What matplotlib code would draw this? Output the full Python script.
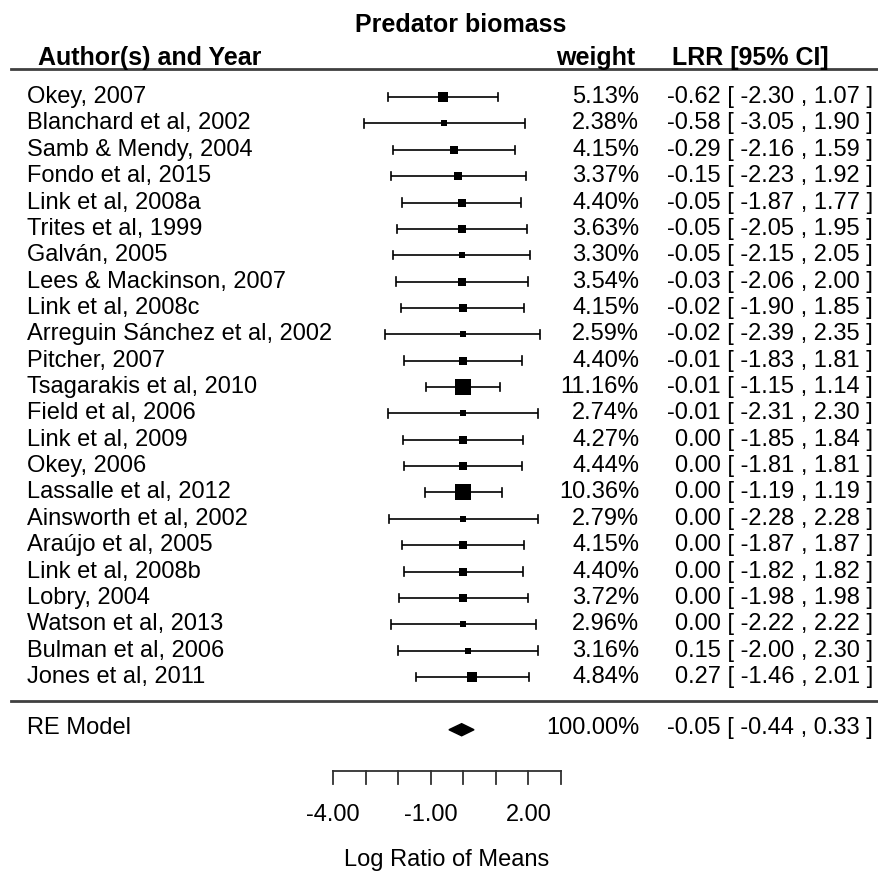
import numpy as np
import matplotlib
matplotlib.use('Agg')
import matplotlib.pyplot as plt
from matplotlib.patches import Polygon

plt.rcParams['font.family'] = ['Liberation Sans', 'DejaVu Sans']

# ── study-level data (top to bottom) ───────────────────────────────────────
studies = [
    "Okey, 2007", "Blanchard et al, 2002", "Samb & Mendy, 2004", "Fondo et al, 2015",
    "Link et al, 2008a", "Trites et al, 1999", "Galván, 2005", "Lees & Mackinson, 2007",
    "Link et al, 2008c", "Arreguin Sánchez et al, 2002", "Pitcher, 2007",
    "Tsagarakis et al, 2010", "Field et al, 2006", "Link et al, 2009", "Okey, 2006",
    "Lassalle et al, 2012", "Ainsworth et al, 2002", "Araújo et al, 2005",
    "Link et al, 2008b", "Lobry, 2004", "Watson et al, 2013", "Bulman et al, 2006",
    "Jones et al, 2011",
]
weights = [5.13, 2.38, 4.15, 3.37, 4.40, 3.63, 3.30, 3.54, 4.15, 2.59, 4.40, 11.16,
           2.74, 4.27, 4.44, 10.36, 2.79, 4.15, 4.40, 3.72, 2.96, 3.16, 4.84]
lrr = [-0.62, -0.58, -0.29, -0.15, -0.05, -0.05, -0.05, -0.03, -0.02, -0.02, -0.01,
       -0.01, -0.01, 0.00, 0.00, 0.00, 0.00, 0.00, 0.00, 0.00, 0.00, 0.15, 0.27]
ci_lo = [-2.30, -3.05, -2.16, -2.23, -1.87, -2.05, -2.15, -2.06, -1.90, -2.39, -1.83,
         -1.15, -2.31, -1.85, -1.81, -1.19, -2.28, -1.87, -1.82, -1.98, -2.22, -2.00, -1.46]
ci_hi = [1.07, 1.90, 1.59, 1.92, 1.77, 1.95, 2.05, 2.00, 1.85, 2.35, 1.81,
         1.14, 2.30, 1.84, 1.81, 1.19, 2.28, 1.87, 1.82, 1.98, 2.22, 2.30, 2.01]

# pooled random-effects estimate
re_est, re_lo, re_hi = -0.05, -0.44, 0.33

xticks = [-4, -3, -2, -1, 0, 1, 2, 3]
xtick_labels = ["-4.00", "", "", "-1.00", "", "", "2.00", ""]

# ── layout ─────────────────────────────────────────────────────────────────
k = len(studies)
rows = np.arange(k, 0, -1)
FS = 17
FS_B = 18

fig = plt.figure(figsize=(8.79, 8.74), dpi=100)
ax = fig.add_axes([0, 0, 1, 1])
ax.set_xlim(-14.224, 12.764)
ax.set_ylim(-6.473, 26.683)
ax.axis('off')

# square sizes as in metafor: scaled 1/SE between 0.5 and 1.5
se = (np.array(ci_hi) - np.array(ci_lo)) / (2 * 1.96)
inv = 1 / se
psize = (inv - inv.min()) / (inv.max() - inv.min()) + 0.5

cap = 0.16
for r, est, lo, hi, ps in zip(rows, lrr, ci_lo, ci_hi, psize):
    ax.plot([lo, hi], [r, r], color='black', lw=1.2, solid_capstyle='butt')
    ax.plot([lo, lo], [r - cap, r + cap], color='black', lw=1.2)
    ax.plot([hi, hi], [r - cap, r + cap], color='black', lw=1.2)
    ax.plot(est, r, marker='s', color='black', markersize=ps * 7.7, markeredgewidth=0)

# summary diamond
ax.add_patch(Polygon([[re_lo, -1], [re_est, -0.77], [re_hi, -1], [re_est, -1.23]],
                     closed=True, color='black'))

# separating lines
ax.plot([-13.9, 12.764], [24.05, 24.05], color='#404040', lw=2)
ax.plot([-13.9, 12.764], [0.1, 0.1], color='#404040', lw=2)

# text columns
x_lab = -13.4
x_wt = 5.40
x_ci = 12.58
for r, name, w, est, lo, hi in zip(rows, studies, weights, lrr, ci_lo, ci_hi):
    ax.text(x_lab, r, name, fontsize=FS, ha='left', va='center')
    ax.text(x_wt, r, f"{w:.2f}%", fontsize=FS, ha='right', va='center')
    ax.text(x_ci, r, f"{est:.2f} [ {lo:.2f} , {hi:.2f} ]", fontsize=FS, ha='right', va='center')

ax.text(x_lab, -0.95, "RE Model", fontsize=FS, ha='left', va='center')
ax.text(x_wt, -0.95, "100.00%", fontsize=FS, ha='right', va='center')
ax.text(x_ci, -0.95, f"{re_est:.2f} [ {re_lo:.2f} , {re_hi:.2f} ]", fontsize=FS,
        ha='right', va='center')

# headers
ax.text(-0.07, 25.73, "Predator biomass", fontsize=FS_B, fontweight='bold', ha='center', va='center')
ax.text(-13.06, 24.48, "Author(s) and Year", fontsize=FS_B, fontweight='bold', ha='left', va='center')
ax.text(5.27, 24.48, "weight", fontsize=FS_B, fontweight='bold', ha='right', va='center')
ax.text(11.23, 24.48, "LRR [95% CI]", fontsize=FS_B, fontweight='bold', ha='right', va='center')

# x axis
y_ax = -2.57
ax.plot([xticks[0], xticks[-1]], [y_ax, y_ax], color='#303030', lw=1.3)
for t, lab in zip(xticks, xtick_labels):
    ax.plot([t, t], [y_ax, y_ax - 0.49], color='#303030', lw=1.3)
    if lab:
        ax.text(t, -4.24, lab, fontsize=FS, ha='center', va='center')
ax.text(-0.5, -5.94, "Log Ratio of Means", fontsize=FS, ha='center', va='center')

fig.savefig("out.png", dpi=100)
